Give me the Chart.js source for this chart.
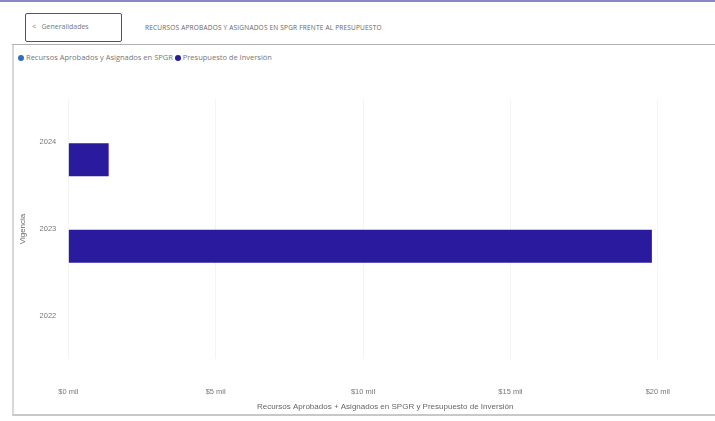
<!DOCTYPE html>
<html>
<head>
<meta charset="utf-8">
<script src="https://cdn.jsdelivr.net/npm/chart.js@4.4.1/dist/chart.umd.min.js"></script>
<style>
	body { margin: 0; width: 715px; height: 421px; background: #fff; font-family: "Open Sans", "DejaVu Sans", sans-serif; overflow: hidden; position: relative; }
	#topline { position: absolute; left: 0; top: 0; width: 715px; height: 2px; background: #8a86c8; }
	#back-btn { position: absolute; left: 25px; top: 13px; width: 97px; height: 29px; border: 1.5px solid #555; border-radius: 2px; box-sizing: border-box; font-size: 7px; color: #777; line-height: 26px; padding-left: 6px; }
	#title { position: absolute; left: 145px; top: 23px; font-size: 6.5px; color: #666; letter-spacing: 0.2px; }
	#hr { position: absolute; left: 12px; top: 44px; width: 703px; height: 1px; background: #b0b0b0; }
	#frame { position: absolute; left: 12px; top: 45px; width: 703px; height: 371px; border-left: 2px solid #d8d8d8; border-bottom: 2px solid #c8c8c8; box-sizing: border-box; }
	#legend { position: absolute; left: 18px; top: 52px; font-size: 7.5px; color: #777; white-space: nowrap; }
	#legend span.dot { display: inline-block; width: 6px; height: 6px; border-radius: 50%; margin-right: 2px; vertical-align: -0.5px; }
	#wrap { position: absolute; left: 14px; top: 66px; width: 698px; height: 349px; }
</style>
</head>
<body>
<div id="topline"></div>
<div id="back-btn">&lt;&nbsp;&nbsp;&nbsp;Generalidades</div>
<div id="title">RECURSOS APROBADOS Y ASIGNADOS EN SPGR FRENTE AL PRESUPUESTO</div>
<div id="hr"></div>
<div id="frame"></div>
<div id="legend"></div>
<div id="wrap"><canvas id="chart" width="698" height="349"></canvas></div>

<script>
	var years = ['2024', '2023', '2022'];
	var recursosSPGR = [0, 0, 0];
	var presupuesto = [1.37, 19.8, 0];
	var seriesNames = ['Recursos Aprobados y Asignados en SPGR', 'Presupuesto de Inversión'];
	var seriesColors = ['#2f6fc0', '#2a1a9e'];
	var xTicks = [0, 5, 10, 15, 20];
	var xTickLabels = ['$0 mil', '$5 mil', '$10 mil', '$15 mil', '$20 mil'];

	// html legend
	var legend = document.getElementById('legend');
	for (var i = 0; i < seriesNames.length; i++) {
		legend.innerHTML += '<span class="dot" style="background:' + seriesColors[i] + '"></span>' + seriesNames[i] + '&nbsp;';
	}

	new Chart(document.getElementById('chart'), {
		type: 'bar',
		data: {
			labels: years,
			datasets: [
				{ label: seriesNames[0], data: recursosSPGR, backgroundColor: seriesColors[0] },
				{ label: seriesNames[1], data: presupuesto, backgroundColor: seriesColors[1] }
			]
		},
		options: {
			indexAxis: 'y',
			responsive: false,
			animation: false,
			layout: { padding: { top: 33, right: 10, left: 0, bottom: 0 } },
			plugins: { legend: { display: false }, tooltip: { enabled: false } },
			datasets: { bar: { categoryPercentage: 0.8, barPercentage: 0.95 } },
			scales: {
				x: {
					min: 0,
					max: 21.5,
					afterBuildTicks: function (axis) {
						axis.ticks = xTicks.map(function (v) { return { value: v }; });
					},
					afterFit: function (axis) { axis.height = 56; },
					ticks: {
						padding: 28,
						color: '#777',
						font: { size: 7.5 },
						callback: function (v) { return xTickLabels[xTicks.indexOf(v)]; }
					},
					grid: { color: '#f4f4f4', drawTicks: false },
					border: { display: false },
					title: { display: true, text: 'Recursos Aprobados + Asignados en SPGR y Presupuesto de Inversión', color: '#666', font: { size: 8 }, padding: { top: 0, bottom: 3 } }
				},
				y: {
					ticks: { color: '#777', font: { size: 7.5 }, padding: 4 },
					grid: { display: false },
					border: { display: false },
					title: { display: true, text: 'Vigencia', color: '#666', font: { size: 8 }, padding: { bottom: 8 } }
				}
			}
		}
	});
</script>
</body>
</html>
